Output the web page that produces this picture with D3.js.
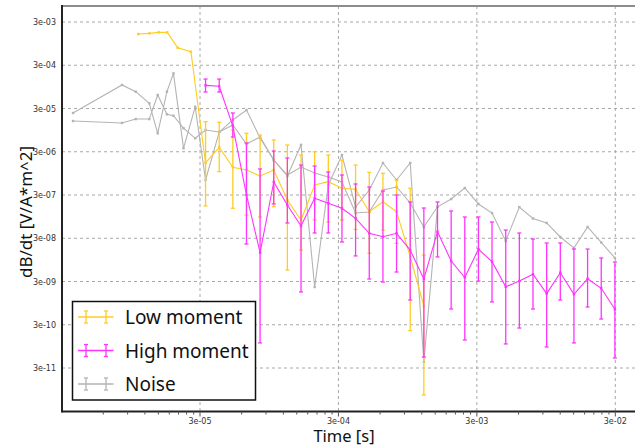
<!DOCTYPE html>
<html><head><meta charset="utf-8">
<script src="https://cdn.jsdelivr.net/npm/d3@7"></script>
<style>body{margin:0;background:#fff} svg{display:block}</style>
</head><body><svg id="c" width="635" height="447"></svg>
<script>
// ---- data ----
const hmTime = [3.29e-5,4.13e-5,5.18e-5,6.50e-5,8.15e-5,1.023e-4,1.283e-4,1.610e-4,2.020e-4,2.535e-4,3.181e-4,3.99e-4,5.01e-4,6.29e-4,7.89e-4,9.90e-4,1.242e-3,1.559e-3,1.956e-3,2.454e-3,3.08e-3,3.86e-3,4.85e-3,6.08e-3,7.63e-3,9.58e-3,1.202e-2,1.508e-2,1.892e-2,2.374e-2,2.98e-2];
const hmValue = [1.03e-4,9.78e-5,1.18e-5,3.0e-7,1.39e-8,6.0e-7,1.76e-7,5.76e-8,2.52e-7,1.93e-7,1.48e-7,8.68e-8,3.90e-8,3.26e-8,3.90e-8,1.60e-8,3.43e-9,4.25e-8,8.93e-9,3.71e-9,1.67e-8,8.61e-9,2.27e-9,3.08e-9,4.42e-9,1.57e-9,4.79e-9,1.52e-9,3.48e-9,2.09e-9,6.83e-10];
const hmUpper = [1.44e-4,1.44e-4,2.36e-5,4.78e-6,1.20e-6,3.12e-6,2.15e-6,1.48e-6,1.40e-6,1.02e-6,8.70e-7,5.39e-7,4.59e-7,3.71e-7,3.0e-7,2.07e-7,1.50e-7,2.07e-7,1.28e-7,9.30e-8,9.30e-8,7.12e-8,4.65e-8,3.97e-8,2.88e-8,2.33e-8,2.33e-8,1.69e-8,1.69e-8,1.05e-8,8.47e-9];
const hmLower = [7.22e-5,7.22e-5,6.58e-6,2.21e-8,1.14e-10,1.86e-7,6.76e-8,1.72e-9,3.97e-8,3.97e-8,2.46e-8,1.17e-8,3.43e-9,2.92e-9,4.97e-9,1.12e-9,5.39e-11,1.11e-8,6.94e-10,1.33e-10,3.08e-9,1.01e-9,1.08e-10,2.52e-10,6.94e-10,9.18e-11,1.12e-9,1.14e-10,7.72e-10,4.07e-10,5.11e-11];

const lmTime = [1.075e-5,1.29e-5,1.51e-5,1.74e-5,2.07e-5,2.58e-5,3.29e-5,4.13e-5,5.18e-5,6.50e-5,8.15e-5,1.023e-4,1.283e-4,1.610e-4,2.020e-4,2.535e-4,3.181e-4,3.99e-4,5.01e-4,6.29e-4,7.89e-4,9.90e-4,1.242e-3];
const lmValue = [1.58e-3,1.64e-3,1.73e-3,1.73e-3,7.63e-4,6.17e-4,1.65e-6,3.76e-6,1.31e-6,1.14e-6,8.25e-7,1.14e-6,2.30e-7,7.93e-8,5.11e-7,6.09e-7,4.29e-7,4.06e-7,1.23e-7,2.10e-7,1.23e-7,1.12e-8,8.14e-10];
const lmUpper = [null,null,null,null,null,null,1.49e-5,1.44e-5,9.55e-6,8.01e-6,7.32e-6,5.61e-6,4.30e-6,2.52e-6,2.99e-6,2.52e-6,1.93e-6,1.48e-6,1.00e-6,9.52e-7,6.67e-7,4.29e-7,1.23e-8];
const lmLower = [null,null,null,null,null,null,1.67e-7,1.04e-6,1.48e-7,1.03e-7,9.30e-8,1.61e-7,5.53e-9,1.60e-8,7.93e-8,7.12e-8,7.93e-8,4.78e-8,1.35e-8,4.65e-8,2.29e-8,2.19e-10,7.12e-12];

// noise, low-moment gates (with the deep dip)
const noiseLmTime = [3.63e-6,8.2e-6,1.03e-5,1.29e-5,1.485e-5,1.73e-5,1.93e-5,2.28e-5,2.77e-5,3.29e-5,4.13e-5,5.18e-5,6.50e-5,8.15e-5,1.023e-4,1.283e-4,1.610e-4,2.020e-4,2.535e-4,3.181e-4,3.99e-4,5.01e-4,6.29e-4,7.89e-4,9.90e-4,1.242e-3,1.559e-3];
const noiseLmValue = [2.36e-5,1.05e-4,7.34e-5,3.96e-5,8.01e-6,7.34e-5,1.95e-4,3.60e-6,3.28e-5,6.67e-7,8.59e-6,1.63e-5,2.77e-5,6.24e-6,1.93e-6,8.25e-7,4.30e-6,2.24e-9,5.11e-7,2.52e-6,1.58e-7,3.92e-7,1.65e-6,6.67e-7,1.65e-6,4.13e-11,1.60e-7];
// noise, high-moment gates
const noiseHmTime = [3.63e-6,8.2e-6,1.03e-5,1.29e-5,1.485e-5,1.73e-5,1.93e-5,2.28e-5,2.77e-5,3.29e-5,4.13e-5,5.18e-5,6.50e-5,8.15e-5,1.023e-4,1.283e-4,1.610e-4,2.020e-4,2.535e-4,3.181e-4,3.99e-4,5.01e-4,6.29e-4,7.89e-4,9.90e-4,1.242e-3,1.559e-3,1.956e-3,2.454e-3,3.08e-3,3.86e-3,4.85e-3,6.08e-3,7.63e-3,9.58e-3,1.202e-2,1.508e-2,1.892e-2,2.374e-2,2.98e-2];
const noiseHmValue = [1.54e-5,1.39e-5,1.71e-5,1.71e-5,6.15e-5,2.20e-5,2.04e-5,1.05e-5,6.14e-6,9.55e-6,8.59e-6,1.25e-5,4.53e-6,6.58e-6,1.93e-6,8.70e-7,1.33e-6,9.68e-7,7.82e-7,6.0e-7,1.15e-7,1.21e-7,3.92e-7,4.59e-7,1.96e-7,5.46e-8,1.60e-7,2.42e-7,4.36e-7,1.86e-7,1.15e-7,2.59e-8,1.58e-7,8.59e-8,6.76e-8,3.21e-8,1.79e-8,5.46e-8,2.40e-8,1.05e-8];

const xTicks = [3e-5,3e-4,3e-3,3e-2];
const xTickLabels = ["3e-05","3e-04","3e-03","3e-02"];
const xMinorSteps = [2,3,4,5,6,7,8,9];
const yTicks = [3e-3,3e-4,3e-5,3e-6,3e-7,3e-8,3e-9,3e-10,3e-11];
const yTickLabels = ["3e-03","3e-04","3e-05","3e-06","3e-07","3e-08","3e-09","3e-10","3e-11"];
const legendLabels = ["Low moment","High moment","Noise"];
const colors = {lm:"#ffcc22", hm:"#ff33ff", noise:"#b4b4b4"};

// ---- layout ----
const svg = d3.select("#c");
const L=62, T=6, R=640, B=411.5;
const x = d3.scaleLog().domain([3e-5,3e-2]).range([200,615.3]);
const y = d3.scaleLog().domain([3e-3,3e-11]).range([22,368]);

// grid
const g = svg.append("g");
g.selectAll(".gx").data(xTicks).join("line")
  .attr("x1",d=>x(d)).attr("x2",d=>x(d)).attr("y1",T).attr("y2",B)
  .attr("stroke","#a8a8a8").attr("stroke-dasharray","3,3");
g.selectAll(".gy").data(yTicks).join("line")
  .attr("x1",L).attr("x2",R).attr("y1",d=>y(d)).attr("y2",d=>y(d))
  .attr("stroke","#a8a8a8").attr("stroke-dasharray","3,3");

function drawSeries(times, vals, color, up, lo){
  const pts = times.map((t,i)=>({t, v:vals[i], u: up?up[i]:null, l: lo?lo[i]:null}));
  const line = d3.line().x(d=>x(d.t)).y(d=>y(d.v));
  const s = svg.append("g");
  s.append("path").datum(pts).attr("d",line).attr("fill","none")
    .attr("stroke",color).attr("stroke-width",1.1);
  const eb = pts.filter(d=>d.u!=null);
  s.selectAll(".eb").data(eb).join("line")
    .attr("x1",d=>x(d.t)).attr("x2",d=>x(d.t)).attr("y1",d=>y(d.u)).attr("y2",d=>y(d.l))
    .attr("stroke",color).attr("stroke-width",1.3);
  ["u","l"].forEach(k=>{
    s.selectAll(".cap"+k).data(eb).join("line")
      .attr("x1",d=>x(d.t)-2).attr("x2",d=>x(d.t)+2).attr("y1",d=>y(d[k])).attr("y2",d=>y(d[k]))
      .attr("stroke",color).attr("stroke-width",1.3);
  });
  s.selectAll("rect").data(pts).join("rect")
    .attr("x",d=>x(d.t)-1.2).attr("y",d=>y(d.v)-1.2).attr("width",2.4).attr("height",2.4)
    .attr("fill",color);
}
drawSeries(noiseLmTime, noiseLmValue, colors.noise);
drawSeries(noiseHmTime, noiseHmValue, colors.noise);
drawSeries(lmTime, lmValue, colors.lm, lmUpper, lmLower);
drawSeries(hmTime, hmValue, colors.hm, hmUpper, hmLower);

// frame
svg.append("line").attr("x1",L).attr("x2",R).attr("y1",T).attr("y2",T).attr("stroke","#8c8c8c").attr("stroke-width",2);
svg.append("line").attr("x1",L).attr("x2",L).attr("y1",T-1).attr("y2",B+1).attr("stroke","#222").attr("stroke-width",2);
svg.append("line").attr("x1",L).attr("x2",R).attr("y1",B).attr("y2",B).attr("stroke","#222").attr("stroke-width",2);

// x axis ticks: majors at 3e-n, minors at k*3e-n
const majorsAll = [3e-6].concat(xTicks);
const minor = [];
majorsAll.forEach(m=>xMinorSteps.forEach(k=>{ const v=m*k; if (x(v)>L && x(v)<635) minor.push(v); }));
svg.selectAll(".mt").data(minor).join("line")
  .attr("x1",d=>x(d)).attr("x2",d=>x(d)).attr("y1",B).attr("y2",B+3)
  .attr("stroke","#555").attr("stroke-width",1);
svg.selectAll(".xt").data(xTicks).join("line")
  .attr("x1",d=>x(d)).attr("x2",d=>x(d)).attr("y1",B).attr("y2",B+5)
  .attr("stroke","#555").attr("stroke-width",1);
svg.selectAll(".xl").data(xTicks).join("text")
  .attr("x",d=>x(d)).attr("y",423.5).attr("text-anchor","middle")
  .attr("font-family","DejaVu Sans, Verdana, sans-serif").attr("font-size",8).attr("fill","#333")
  .text((d,i)=>xTickLabels[i]);
svg.selectAll(".yl").data(yTicks).join("text")
  .attr("x",56).attr("y",d=>y(d)+3).attr("text-anchor","end")
  .attr("font-family","DejaVu Sans, Verdana, sans-serif").attr("font-size",8).attr("fill","#333")
  .text((d,i)=>yTickLabels[i]);

// axis titles
svg.append("text").attr("x",344).attr("y",442).attr("text-anchor","middle")
  .attr("font-family","Noto Sans, Open Sans, sans-serif").attr("font-size",16.5).attr("fill","#111").text("Time [s]");
svg.append("text").attr("transform","translate(32,212) rotate(-90)").attr("text-anchor","middle")
  .attr("font-family","Noto Sans, Open Sans, sans-serif").attr("font-size",17).attr("fill","#111").text("dB/dt [V/A*m^2]");

// legend
const lg = svg.append("g");
lg.append("rect").attr("x",72.5).attr("y",301.5).attr("width",183).attr("height",98.5)
  .attr("fill","#fff").attr("stroke","#111").attr("stroke-width",1.5);
const lc = [colors.lm, colors.hm, colors.noise];
const ly = [317, 350.5, 384];
legendLabels.forEach((lab,i)=>{
  const yy = ly[i];
  lg.append("line").attr("x1",78).attr("x2",113.5).attr("y1",yy).attr("y2",yy).attr("stroke",lc[i]).attr("stroke-width",1.3);
  [86,106].forEach(xx=>{
    lg.append("line").attr("x1",xx).attr("x2",xx).attr("y1",yy-6).attr("y2",yy+6).attr("stroke",lc[i]).attr("stroke-width",1.3);
    lg.append("line").attr("x1",xx-2).attr("x2",xx+2).attr("y1",yy-6).attr("y2",yy-6).attr("stroke",lc[i]).attr("stroke-width",1.3);
    lg.append("line").attr("x1",xx-2).attr("x2",xx+2).attr("y1",yy+6).attr("y2",yy+6).attr("stroke",lc[i]).attr("stroke-width",1.3);
  });
  lg.append("text").attr("x",125).attr("y",yy+7).attr("font-family","Noto Sans, Open Sans, sans-serif")
    .attr("font-size",19).attr("fill","#111").text(lab);
});
</script></body></html>
